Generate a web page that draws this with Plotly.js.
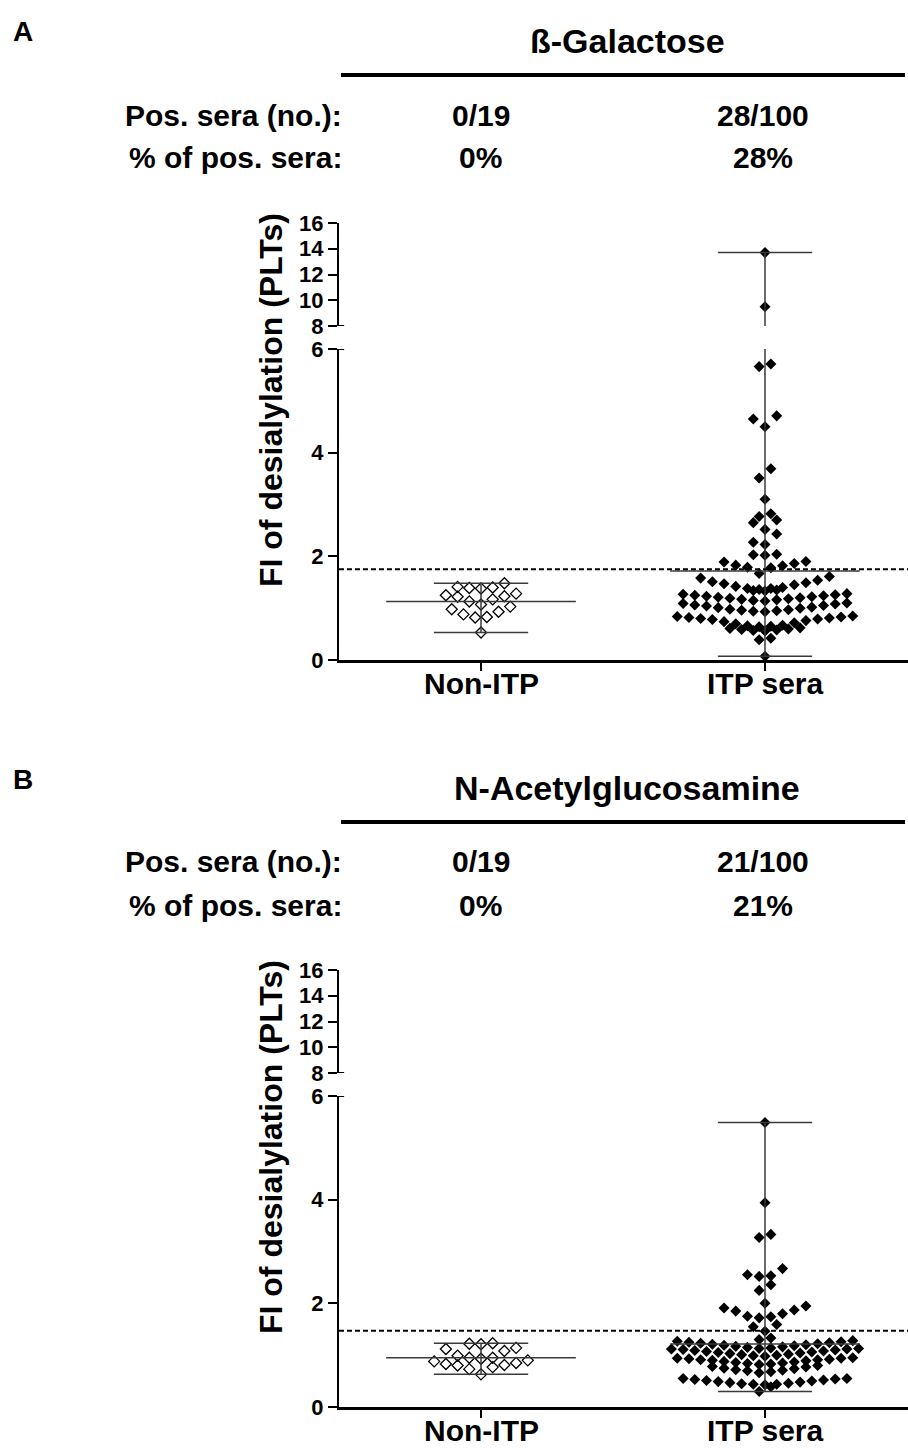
<!DOCTYPE html>
<html>
<head>
<meta charset="utf-8">
<script src="https://cdn.plot.ly/plotly-3.0.1.min.js"></script>
<style>html,body{margin:0;padding:0;background:#fff;}#chart{width:908px;height:1448px;}</style>
</head>
<body>
<div id="chart"></div>
<script>
// ---------------- DATA ----------------
const categories = ['Non-ITP', 'ITP sera'];
const panelLetters = ['A', 'B'];
const panelTitles = ['ß-Galactose', 'N-Acetylglucosamine'];
const posSeraNo = [['0/19', '28/100'], ['0/19', '21/100']];
const posSeraPct = [['0%', '28%'], ['0%', '21%']];
const thresholds = [1.75, 1.47];
const lowerTicks = [0, 2, 4, 6];
const upperTicks = [8, 10, 12, 14, 16];

// values grouped by the rows of the dot plot
const nonItpA = [
  [1.38, 1.39, 1.40, 1.41, 1.48],
  [1.07, 1.13, 1.17, 1.22, 1.23, 1.25, 1.28],
  [0.82, 0.83, 0.88, 0.93, 0.98, 1.03],
  [0.53]
];
const itpA = [
  [13.7], [9.5], [5.66, 5.71], [4.50, 4.65, 4.71], [3.51, 3.69], [3.10],
  [2.77, 2.82], [2.52, 2.65, 2.70], [2.23, 2.27, 2.43], [2.02, 2.03, 2.04],
  [1.67, 1.78, 1.79, 1.82, 1.83, 1.86, 1.89, 1.90],
  [1.36, 1.38, 1.38, 1.40, 1.42, 1.45, 1.47, 1.49, 1.51, 1.54, 1.58, 1.61],
  [1.33, 1.34, 1.35],
  [1.14, 1.15, 1.16, 1.17, 1.18, 1.19, 1.20, 1.21, 1.22, 1.23, 1.24, 1.25, 1.26, 1.27, 1.28],
  [0.93, 0.94, 0.95, 0.96, 0.97, 0.98, 1.00, 1.01, 1.02, 1.04, 1.05, 1.06, 1.08, 1.09, 1.10],
  [0.64, 0.65, 0.66, 0.67, 0.70, 0.72, 0.74, 0.76, 0.78, 0.79, 0.80, 0.81, 0.82, 0.83, 0.84, 0.85],
  [0.56, 0.57, 0.58, 0.59, 0.60, 0.61, 0.62],
  [0.39, 0.42],
  [0.07]
];
const nonItpB = [
  [1.21, 1.22, 1.23],
  [0.93, 0.95, 0.95, 0.99, 1.08, 1.12, 1.14],
  [0.63, 0.73, 0.77, 0.80, 0.81, 0.83, 0.85, 0.88, 0.90]
];
const itpB = [
  [5.49], [3.94], [3.27, 3.33], [2.52, 2.53, 2.55, 2.67], [2.25, 2.36], [2.00],
  [1.72, 1.74, 1.75, 1.80, 1.85, 1.87, 1.91, 1.95],
  [1.46, 1.55, 1.59],
  [1.30, 1.33],
  [1.13, 1.14, 1.15, 1.16, 1.17, 1.18, 1.19, 1.20, 1.21, 1.22, 1.23, 1.24, 1.25, 1.26, 1.27, 1.28],
  [0.98, 0.99, 1.00, 1.01, 1.02, 1.03, 1.04, 1.05, 1.06, 1.07, 1.08, 1.09, 1.10, 1.11, 1.12, 1.12, 1.13],
  [0.82, 0.83, 0.84, 0.85, 0.86, 0.87, 0.88, 0.89, 0.90, 0.91, 0.91, 0.92, 0.93, 0.94, 0.94, 0.95],
  [0.66, 0.68, 0.70, 0.71, 0.72, 0.74, 0.75, 0.77, 0.78, 0.80],
  [0.43, 0.44, 0.44, 0.45, 0.46, 0.47, 0.48, 0.49, 0.50, 0.51, 0.52, 0.53, 0.54, 0.55, 0.55],
  [0.30, 0.39]
];
const panels = [[nonItpA, itpA], [nonItpB, itpB]];

// ---------------- LAYOUT HELPERS ----------------
const W = 908, H = 1448;
const PANEL_DY = 747;
const px = x => x / W;
const py = y => 1 - y / H;
const SLOT = 11.7 / 284;      // horizontal spacing of dots in category units
const MEAN_HW = 0.334, CAP_HW = 0.166;
const FONT = 'Liberation Sans, Arial, Helvetica, sans-serif';

function rowOffsets(n) {
  const out = [];
  for (let i = 0; i < n; i++) {
    if (n % 2 === 1) {
      out.push(i === 0 ? 0 : (i % 2 === 1 ? -(i + 1) / 2 : i / 2));
    } else {
      const k = Math.floor(i / 2);
      out.push(i % 2 === 0 ? -(k + 0.5) : (k + 0.5));
    }
  }
  return out;
}
function swarm(rows, ci) {
  const xs = [], ys = [];
  rows.forEach(r => {
    const s = r.slice().sort((a, b) => a - b);
    const off = rowOffsets(s.length);
    s.forEach((v, i) => { xs.push(ci + off[i] * SLOT); ys.push(v); });
  });
  return {xs, ys};
}

const traces = [];
const shapes = [];
const annotations = [];
const layout = {
  width: W, height: H,
  margin: {l: 0, r: 0, t: 0, b: 0},
  paper_bgcolor: '#fff', plot_bgcolor: 'rgba(0,0,0,0)',
  showlegend: false,
  font: {family: FONT, color: '#000'}
};

panels.forEach((groups, p) => {
  const dy = p * PANEL_DY;
  const xa = p === 0 ? 'x' : 'x2';
  const yl = p === 0 ? 'y' : 'y3';
  const yu = p === 0 ? 'y2' : 'y4';
  const xk = p === 0 ? 'xaxis' : 'xaxis2';
  const ylk = p === 0 ? 'yaxis' : 'yaxis3';
  const yuk = p === 0 ? 'yaxis2' : 'yaxis4';

  layout[xk] = {
    domain: [px(339), 1], range: [-0.5, 1.5035], anchor: yl,
    showline: true, linewidth: 3, linecolor: '#000',
    ticks: 'outside', ticklen: 8, tickwidth: 2, tickcolor: '#000',
    tickvals: [0, 1], showticklabels: false,
    showgrid: false, zeroline: false, fixedrange: true
  };
  layout[ylk] = {
    domain: [py(660 + dy), py(349 + dy)], range: [0, 6], anchor: xa,
    showline: true, linewidth: 2, linecolor: '#000',
    ticks: 'outside', ticklen: 9, tickwidth: 2, tickcolor: '#000',
    tickvals: lowerTicks,
    tickfont: {family: FONT, size: 22, weight: 'bold', color: '#000'},
    showgrid: false, zeroline: false, fixedrange: true
  };
  layout[yuk] = {
    domain: [py(326 + dy), py(223 + dy)], range: [8, 16], anchor: xa,
    showline: true, linewidth: 2, linecolor: '#000',
    ticks: 'outside', ticklen: 9, tickwidth: 2, tickcolor: '#000',
    tickvals: upperTicks,
    tickfont: {family: FONT, size: 22, weight: 'bold', color: '#000'},
    showgrid: false, zeroline: false, fixedrange: true
  };

  // dots (both segments of the broken axis)
  groups.forEach((rows, ci) => {
    const sw = swarm(rows, ci);
    const marker = ci === 0
      ? {symbol: 'diamond-open', size: 8.5, color: '#000', line: {width: 1.3, color: '#000'}}
      : {symbol: 'diamond', size: 8.5, color: '#000', line: {width: 0}};
    const low = {xs: [], ys: []}, up = {xs: [], ys: []};
    sw.ys.forEach((v, i) => {
      const t = v >= upperTicks[0] ? up : low;
      t.xs.push(sw.xs[i]); t.ys.push(v);
    });
    [[low, yl], [up, yu]].forEach(([d, ya]) => {
      if (!d.ys.length) return;
      traces.push({type: 'scatter', mode: 'markers', x: d.xs, y: d.ys,
        xaxis: xa, yaxis: ya, marker: marker, cliponaxis: true, hoverinfo: 'skip'});
    });

    // mean with range
    const all = rows.flat();
    const mean = all.reduce((a, b) => a + b, 0) / all.length;
    const mn = Math.min(...all), mx = Math.max(...all);
    const ex = [ci - MEAN_HW, ci + MEAN_HW, null, ci - CAP_HW, ci + CAP_HW, null, ci - CAP_HW, ci + CAP_HW, null, ci, ci];
    const ey = [mean, mean, null, mn, mn, null, mx, mx, null, mn, mx];
    [yl, yu].forEach(ya => {
      traces.push({type: 'scatter', mode: 'lines', x: ex, y: ey, xaxis: xa, yaxis: ya,
        line: {color: '#3a3a3a', width: 1.5}, connectgaps: false, hoverinfo: 'skip'});
    });

    // category label
    annotations.push({text: '<b>' + categories[ci] + '</b>', xref: xa, yref: 'paper',
      x: ci, y: py(683 + dy), xanchor: 'center', yanchor: 'middle', showarrow: false,
      font: {family: FONT, size: 30, color: '#000'}});
  });

  // threshold
  shapes.push({type: 'line', xref: xa + ' domain', yref: yl, x0: 0, x1: 1,
    y0: thresholds[p], y1: thresholds[p], line: {color: '#000', width: 2, dash: '5px,3px'}});
  // axis break marks
  shapes.push({type: 'line', xref: xa + ' domain', yref: yl, x0: 0, x1: 0.009,
    y0: lowerTicks[lowerTicks.length - 1], y1: lowerTicks[lowerTicks.length - 1], line: {color: '#000', width: 2}});
  shapes.push({type: 'line', xref: xa + ' domain', yref: yu, x0: 0, x1: 0.009,
    y0: upperTicks[0], y1: upperTicks[0], line: {color: '#000', width: 2}});
  // heading rule
  shapes.push({type: 'line', xref: 'paper', yref: 'paper', x0: px(341), x1: px(905),
    y0: py(75 + dy), y1: py(75 + dy), line: {color: '#000', width: 4}});

  const bold = (t, size, x, y, xanchor, extra) => Object.assign({
    text: '<b>' + t + '</b>', xref: 'paper', yref: 'paper', x: px(x), y: py(y),
    xanchor: xanchor || 'center', yanchor: 'middle', showarrow: false,
    font: {family: FONT, size: size, color: '#000'}
  }, extra || {});

  annotations.push(bold(panelLetters[p], 28, 23, 32 + dy));
  annotations.push(bold(panelTitles[p], 34, 627, 41 + dy));
  annotations.push(bold('Pos. sera (no.):', 30, 344, 115 + dy, 'right'));
  annotations.push(bold('% of pos. sera:', 30, 344, 158 + dy, 'right'));
  [481, 763].forEach((cx, i) => {
    annotations.push(bold(posSeraNo[p][i], 30, cx, 115 + dy));
    annotations.push(bold(posSeraPct[p][i], 30, cx, 158 + dy));
  });
  annotations.push(bold('FI of desialylation (PLTs)', 32, 271, 400 + dy, 'center', {textangle: -90}));
});

layout.shapes = shapes;
layout.annotations = annotations;

Plotly.newPlot('chart', traces, layout, {staticPlot: true, displayModeBar: false});
</script>
</body>
</html>
